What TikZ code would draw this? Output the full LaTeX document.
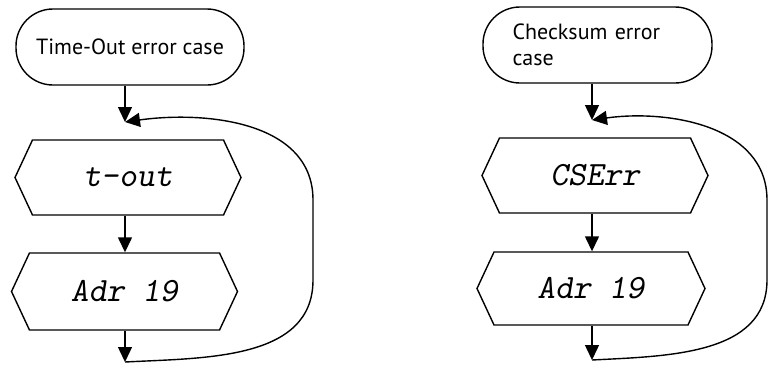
\documentclass[tikz,border=0pt]{standalone}
\usepackage{fontspec}
\setmainfont{PT Sans}
\usetikzlibrary{shapes.symbols,arrows.meta}

\begin{document}
\begin{tikzpicture}[x=1pt,y=-1pt,line width=1.4pt,
  term/.style={draw,rectangle,rounded corners=37pt,minimum width=228pt,
    minimum height=76pt,font=\fontsize{22}{26}\selectfont},
  disp/.style={draw,signal,signal to=west and east,signal pointer angle=130,
    minimum width=226pt,minimum height=75pt,inner sep=0pt,
    font=\fontsize{34}{34}\ttfamily\slshape},
  flow/.style={-{Triangle[length=15pt,width=14pt]}}]
\useasboundingbox (0,0) rectangle (769,365);

% Time-Out
\node[term] (startL) at (130,47) {Time-Out error case};
\coordinate (joinL) at (125,122);
\node[disp] (toutL) at (128,177.5) {t-out};
\node[disp,minimum height=77pt] (adrL) at (124.5,291.5) {Adr 19};
\coordinate (endL) at (125,362);

\draw[flow] (startL.south -| joinL) -- (joinL);
\draw[flow] (toutL.south -| joinL) -- (adrL.north -| joinL);
\draw[flow] (adrL.south -| endL) -- (endL);
\draw[flow] (endL) to[out=3,in=-90] (313,280) -- (313,200)
  to[out=90,in=8] (joinL);

% Checksum
\node[term,minimum width=229pt,text width=170pt,align=left] (startR)
  at (597.5,45) {Checksum error\\case};
\coordinate (joinR) at (592,120);
\node[disp] (cserr) at (595,175.5) {CSErr};
\node[disp,minimum width=228pt,minimum height=73pt] (adrR) at (591,288.5) {Adr 19};
\coordinate (endR) at (592,360);

\draw[flow] (startR.south -| joinR) -- (joinR);
\draw[flow] (cserr.south -| joinR) -- (adrR.north -| joinR);
\draw[flow] (adrR.south -| endR) -- (endR);
\draw[flow] (endR) to[out=3,in=-90] (767,280) -- (767,200)
  to[out=90,in=8] (joinR);
\end{tikzpicture}
\end{document}
